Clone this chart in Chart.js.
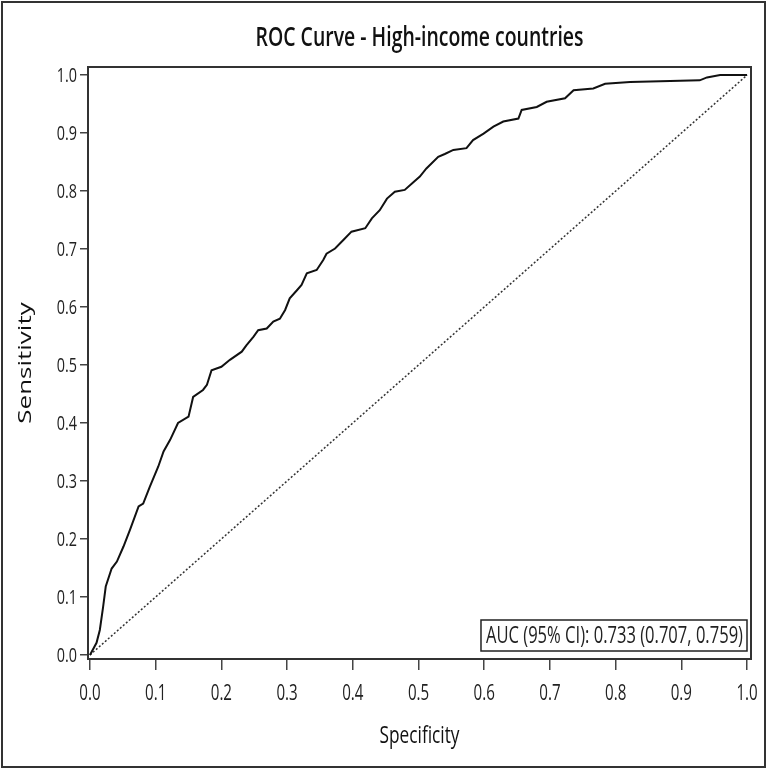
<!DOCTYPE html>
<html>
<head>
<meta charset="utf-8">
<script src="https://cdn.jsdelivr.net/npm/chart.js@4/dist/chart.umd.min.js"></script>
<style>
  html, body { margin: 0; padding: 0; background: #fff; }
  canvas { display: block; }
</style>
</head>
<body>
<canvas id="rocChart" width="767" height="769"></canvas>
<script>
// ROC curve points (x = 1 - specificity, y = sensitivity)
const fpr = [0, 0.010, 0.015, 0.020, 0.024, 0.033, 0.041, 0.051, 0.061, 0.074, 0.081, 0.091, 0.104, 0.112,
  0.122, 0.134, 0.150, 0.157, 0.172, 0.178, 0.185, 0.200, 0.213, 0.231, 0.238, 0.249, 0.256, 0.269, 0.279,
  0.289, 0.297, 0.304, 0.315, 0.322, 0.330, 0.345, 0.355, 0.360, 0.373, 0.386, 0.398, 0.419, 0.429, 0.441,
  0.452, 0.464, 0.479, 0.490, 0.502, 0.512, 0.530, 0.540, 0.553, 0.573, 0.583, 0.599, 0.614, 0.629, 0.652,
  0.657, 0.680, 0.695, 0.723, 0.736, 0.766, 0.784, 0.822, 0.883, 0.928, 0.939, 0.959, 1.0]
const tpr = [0, 0.021, 0.043, 0.083, 0.118, 0.149, 0.161, 0.187, 0.216, 0.256, 0.261, 0.290, 0.325, 0.351,
  0.371, 0.400, 0.411, 0.445, 0.457, 0.466, 0.491, 0.497, 0.509, 0.523, 0.534, 0.549, 0.560, 0.563, 0.575,
  0.580, 0.595, 0.615, 0.629, 0.638, 0.658, 0.664, 0.681, 0.692, 0.701, 0.716, 0.730, 0.736, 0.753, 0.767,
  0.787, 0.799, 0.802, 0.813, 0.825, 0.839, 0.859, 0.864, 0.871, 0.874, 0.888, 0.899, 0.911, 0.920, 0.925,
  0.940, 0.945, 0.954, 0.960, 0.974, 0.977, 0.985, 0.988, 0.990, 0.991, 0.996, 1.0, 1.0]
const refLine = [0, 1]
const tickVals = [0, 0.1, 0.2, 0.3, 0.4, 0.5, 0.6, 0.7, 0.8, 0.9, 1.0]
const titleText = 'ROC Curve - High-income countries'
const xTitle = 'Specificity'
const yTitle = 'Sensitivity'
const aucText = 'AUC (95% CI): 0.733 (0.707, 0.759)'

// the reference picture is squeezed sideways, so text is drawn narrowed
const squeeze = 0.72
const fam = '"Open Sans", "Noto Sans", sans-serif'
const ink = '#222'

function narrowText (ctx, text, x, y, font, align, color) {
  ctx.save()
  ctx.font = font
  ctx.fillStyle = color || ink
  ctx.textAlign = align
  ctx.textBaseline = 'alphabetic'
  ctx.translate(x, y)
  ctx.scale(squeeze, 1)
  ctx.fillText(text, 0, 0)
  ctx.restore()
}

const decor = {
  id: 'decor',
  afterDraw (chart) {
    const { ctx, chartArea: a, scales } = chart
    ctx.save()
    // outer frame
    ctx.strokeStyle = '#333'
    ctx.lineWidth = 2
    ctx.strokeRect(2, 2, chart.width - 4, chart.height - 4)
    // plot frame
    ctx.strokeStyle = '#333'
    ctx.lineWidth = 2
    ctx.strokeRect(a.left, a.top, a.right - a.left, a.bottom - a.top)
    ctx.restore()

    // title
    narrowText(ctx, titleText, (a.left + a.right) / 2, 46, '600 27px ' + fam, 'center', '#111')

    // tick labels, placed by the scales
    scales.x.ticks.forEach(t => {
      narrowText(ctx, t.value.toFixed(1), scales.x.getPixelForValue(t.value), 700, '21px ' + fam, 'center')
    })
    scales.y.ticks.forEach(t => {
      narrowText(ctx, t.value.toFixed(1), 77, scales.y.getPixelForValue(t.value) + 7, '20px ' + fam, 'right')
    })

    // axis titles
    narrowText(ctx, xTitle, (a.left + a.right) / 2, 743, '24px ' + fam, 'center', '#111')
    ctx.save()
    ctx.font = '26px ' + fam
    ctx.fillStyle = '#111'
    ctx.textAlign = 'center'
    ctx.textBaseline = 'alphabetic'
    ctx.translate(31, (a.top + a.bottom) / 2)
    ctx.scale(squeeze, 1)
    ctx.rotate(-Math.PI / 2)
    ctx.fillText(yTitle, 0, 0)
    ctx.restore()

    // AUC box
    ctx.save()
    const h = 31
    const right = a.right - 4
    const bottom = a.bottom - 8
    ctx.font = '23px ' + fam
    const w = ctx.measureText(aucText).width * squeeze + 9
    ctx.fillStyle = '#fff'
    ctx.fillRect(right - w, bottom - h, w, h)
    ctx.lineWidth = 1.5
    ctx.strokeStyle = '#222'
    ctx.strokeRect(right - w, bottom - h, w, h)
    ctx.restore()
    narrowText(ctx, aucText, right - w + 5, bottom - 8, '23px ' + fam, 'left')
  }
}

const fixTicks = s => { s.ticks = tickVals.map(v => ({ value: v })) }

new Chart(document.getElementById('rocChart'), {
  type: 'scatter',
  data: {
    datasets: [{
      data: fpr.map((x, i) => ({ x: x, y: tpr[i] })),
      showLine: true,
      borderColor: '#111',
      borderWidth: 2,
      pointRadius: 0,
      tension: 0
    }, {
      data: refLine.map(v => ({ x: v, y: v })),
      showLine: true,
      borderColor: '#333',
      borderWidth: 1.5,
      borderDash: [2, 2],
      pointRadius: 0
    }]
  },
  options: {
    responsive: false,
    animation: false,
    layout: { autoPadding: false, padding: { top: 67, right: 16, left: 0, bottom: 0 } },
    plugins: {
      legend: { display: false },
      tooltip: { enabled: false }
    },
    scales: {
      x: {
        type: 'linear',
        min: -0.003,
        max: 1.006,
        afterBuildTicks: fixTicks,
        afterFit: s => { s.height = 110 },
        grid: { drawOnChartArea: false, drawTicks: true, tickLength: 11, color: '#444', lineWidth: 1.5 },
        border: { display: false },
        ticks: { display: false }
      },
      y: {
        type: 'linear',
        min: -0.007,
        max: 1.014,
        afterBuildTicks: fixTicks,
        afterFit: s => { s.width = 88 },
        grid: { drawOnChartArea: false, drawTicks: true, tickLength: 8, color: '#444', lineWidth: 1.5 },
        border: { display: false },
        ticks: { display: false }
      }
    }
  },
  plugins: [decor]
})
</script>
</body>
</html>
